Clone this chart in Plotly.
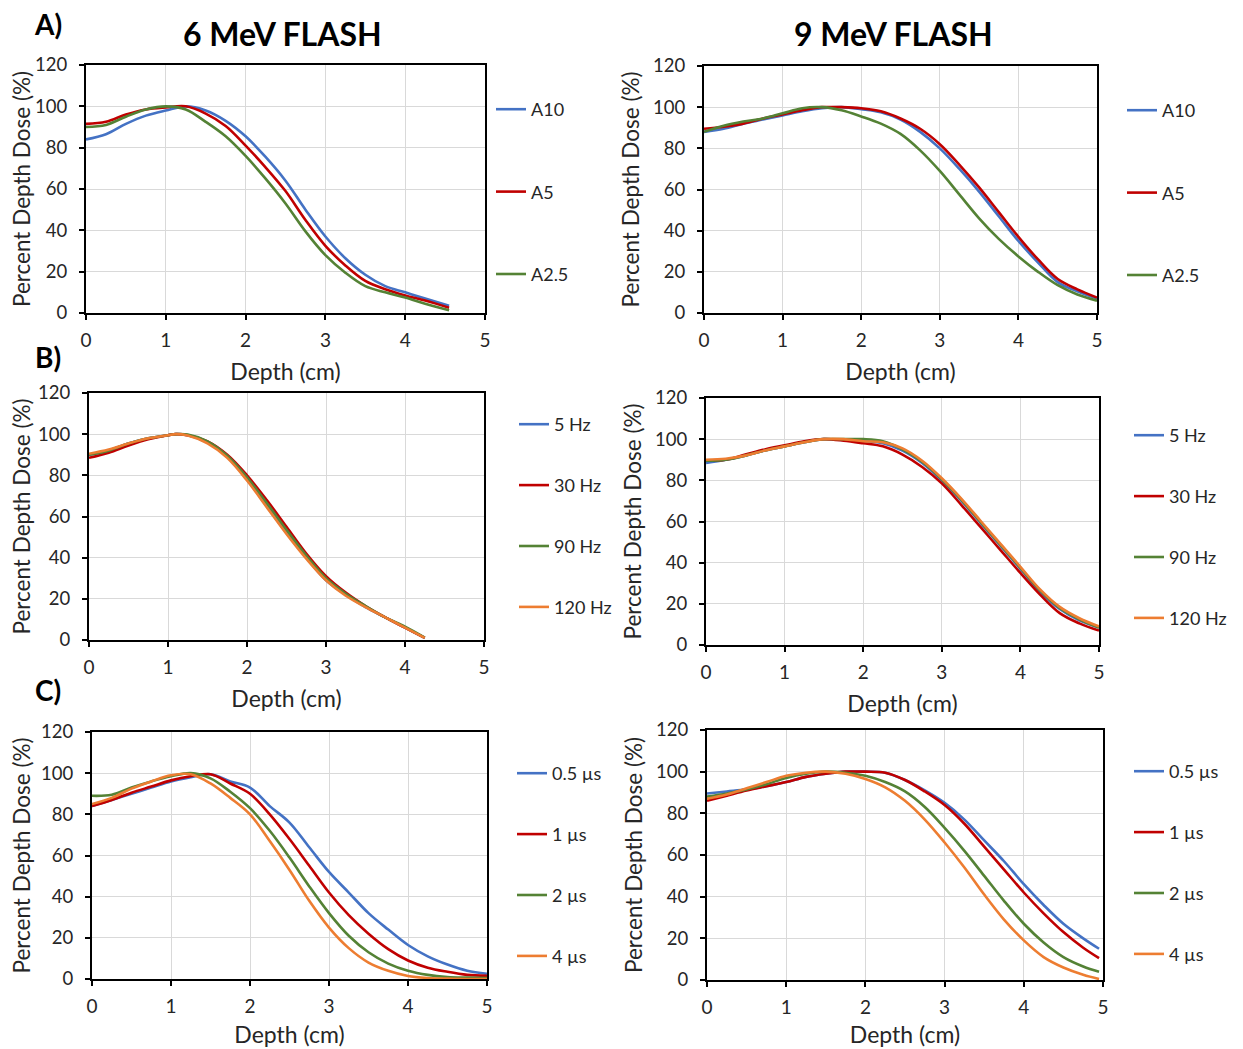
import plotly.graph_objects as go

W, H = 1243, 1049
OFF = 8  # page body margin compensation (px)

# ---------------- data ----------------
depth_a6 = [0, 0.25, 0.5, 0.75, 1.0, 1.25, 1.5, 1.75, 2.0, 2.25, 2.5, 2.75, 3.0, 3.25, 3.5, 3.75, 4.0, 4.25, 4.55]
a6_A10 = [84, 86.5, 91.5, 95.5, 98, 100, 98, 93, 85.5, 75.5, 64, 50, 37, 26.5, 18.5, 13, 10, 7, 3.5]
a6_A5 = [91.5, 92.5, 96, 98.5, 99.5, 100, 96.5, 90.5, 81, 70.5, 59, 45, 32.5, 23, 15.5, 11.5, 8.5, 6, 2.5]
a6_A25 = [90, 91, 95, 98.5, 100, 98.5, 92.5, 85.5, 76, 65, 53, 39.5, 28, 19.5, 13, 10, 7.5, 4.5, 1.3]

depth_a9 = [0, 0.25, 0.5, 0.75, 1.0, 1.25, 1.5, 1.75, 2.0, 2.25, 2.5, 2.75, 3.0, 3.25, 3.5, 3.75, 4.0, 4.25, 4.5, 4.75, 5.0]
a9_A10 = [88, 89.5, 92, 94, 96, 98, 99.5, 100, 99, 97.5, 94, 88, 80, 70, 59, 47, 35, 24.5, 15, 10.5, 7]
a9_A5 = [89.5, 90.5, 92, 94.5, 96.5, 98.5, 100, 100, 99.5, 98, 94.5, 89.5, 82, 72, 61, 49, 37, 26, 16.5, 11.5, 7.5]
a9_A25 = [88, 91, 93, 94.5, 97, 99.5, 100, 98.5, 95.5, 92, 87, 79, 69, 57.5, 46, 36, 27.5, 20, 13.5, 9, 6]

depth_b6 = [0, 0.25, 0.5, 0.75, 1.0, 1.1, 1.25, 1.5, 1.75, 2.0, 2.25, 2.5, 2.75, 3.0, 3.25, 3.5, 3.75, 4.0, 4.25]
b6_5 = [90, 92, 95.5, 98, 99.5, 100, 99.5, 96, 89, 78, 65, 52, 40, 29, 22, 16, 11, 6, 1]
b6_30 = [88.5, 91, 94.5, 97.5, 99.5, 100, 99.5, 96.5, 90, 80, 68, 55, 42, 31, 23, 16.5, 11, 6, 1]
b6_90 = [90, 92, 95.5, 98, 99.5, 100, 99.8, 96.5, 89.5, 79, 66.5, 53.5, 41, 30, 22.5, 16.5, 11, 6.5, 1.2]
b6_120 = [90.5, 92.5, 95.5, 98, 99.5, 100, 99.3, 95.5, 88.5, 77.5, 64.5, 51.5, 39.5, 29, 21.5, 16, 11, 6, 1]

depth_b9 = [0, 0.25, 0.5, 0.75, 1.0, 1.25, 1.5, 1.75, 2.0, 2.25, 2.5, 2.75, 3.0, 3.25, 3.5, 3.75, 4.0, 4.25, 4.5, 4.75, 5.0]
b9_5 = [88.5, 90, 92, 94.5, 96.5, 98.5, 100, 99.5, 99, 98, 94.5, 88.5, 80, 70, 59, 48, 37, 26, 17.5, 12, 8.5]
b9_30 = [89.5, 90, 92.5, 95, 97, 99, 100, 99.3, 98, 96.5, 92.5, 86.5, 78.5, 68, 57, 46, 35, 24.5, 15.5, 10.5, 7]
b9_90 = [89.5, 90, 92, 94.5, 96.5, 98.5, 100, 100, 100, 99, 95, 89, 80.5, 70.5, 59.5, 48.5, 37.5, 26.5, 18, 12.5, 8.5]
b9_120 = [90, 90.5, 92, 94.5, 96.5, 98.5, 100, 100, 99, 98.5, 95.5, 89.5, 81, 71, 60, 49, 38, 27, 18.5, 13, 9]

depth_c6 = [0, 0.25, 0.5, 0.75, 1.0, 1.25, 1.5, 1.75, 2.0, 2.25, 2.5, 2.75, 3.0, 3.25, 3.5, 3.75, 4.0, 4.25, 4.5, 4.75, 5.0]
c6_05 = [84, 87, 90, 93, 96, 98, 99.5, 96, 93, 84, 76, 64, 52, 42, 32, 24, 16.5, 11, 7, 4, 2.5]
c6_1 = [84, 87, 90.5, 93.5, 96.5, 98.5, 99.5, 95, 90, 80, 68, 55, 42, 31, 22, 14.5, 9, 5.5, 3.5, 2, 1.5]
c6_2 = [89, 89.5, 93, 96, 98.5, 100, 97.5, 91, 83, 72, 59, 45, 32, 21, 13, 7.5, 4, 2, 1, 0.7, 0.5]
c6_4 = [85, 88, 92.5, 96, 99, 99.5, 95, 88, 80, 67, 53, 38, 25, 15, 8, 4, 1.5, 0.5, 0.2, 0, 0]

depth_c9 = [0, 0.25, 0.5, 0.75, 1.0, 1.25, 1.5, 1.75, 2.0, 2.25, 2.5, 2.75, 3.0, 3.25, 3.5, 3.75, 4.0, 4.25, 4.5, 4.75, 4.95]
c9_05 = [89.5, 90.5, 91.5, 93, 95, 97.5, 99, 100, 100, 99.5, 96, 91, 85, 77, 67, 57, 46, 36, 27, 20, 15]
c9_1 = [86, 88.5, 91, 93, 95, 97.5, 99, 100, 100, 99.5, 96, 90.5, 84, 75, 64, 53, 42, 32, 23, 15.5, 10.5]
c9_2 = [88, 89.5, 91.5, 94, 97, 99, 100, 99.5, 98, 95, 90.5, 83, 73, 62, 50, 38, 27, 18, 11, 6.5, 4]
c9_4 = [87, 89, 92, 95, 98, 99.5, 100, 99, 96.5, 92.5, 86, 77, 66, 54, 41, 29, 19, 11, 6, 2.5, 0.5]

names_a = ["A10", "A5", "A2.5"]
names_b = ["5 Hz", "30 Hz", "90 Hz", "120 Hz"]
names_c = ["0.5 µs", "1 µs", "2 µs", "4 µs"]

x_ticks = [0, 1, 2, 3, 4, 5]
y_ticks = [0, 20, 40, 60, 80, 100, 120]

col_titles = ["6 MeV FLASH", "9 MeV FLASH"]
row_labels = ["A)", "B)", "C)"]

BLUE, RED, GREEN, ORANGE = "#4472C4", "#C00000", "#548235", "#ED7D31"
colors3 = [BLUE, RED, GREEN]
colors4 = [BLUE, RED, GREEN, ORANGE]

# panel specs: (depth, series, names, colors, plot box px (x0,x1,ytop,ybot), legend px (x, ytop), gap, xtitle standoff)
panels = [
    (depth_a6, [a6_A10, a6_A5, a6_A25], names_a, colors3, (86, 485, 65, 313), (491, 91), 56, 14),
    (depth_a9, [a9_A10, a9_A5, a9_A25], names_a, colors3, (704, 1097, 66, 313), (1122, 92), 56, 14),
    (depth_b6, [b6_5, b6_30, b6_90, b6_120], names_b, colors4, (89, 484, 393, 640), (514, 406), 34.5, 14),
    (depth_b9, [b9_5, b9_30, b9_90, b9_120], names_b, colors4, (706, 1099, 398, 645), (1129, 417), 34.5, 14),
    (depth_c6, [c6_05, c6_1, c6_2, c6_4], names_c, colors4, (92, 487, 732, 979), (512, 755), 34.5, 11),
    (depth_c9, [c9_05, c9_1, c9_2, c9_4], names_c, colors4, (707, 1103, 730, 980), (1129, 753), 34.5, 10),
]

FONT = "Lato"
TXT = "#262626"


def px(x):
    return (x - OFF) / W


def py(y):
    return 1 - (y - OFF) / H


fig = go.Figure()
layout = {}
for i, (depth, series, names, cols, box, leg, gap, xstand) in enumerate(panels):
    k = i + 1
    xa = "x" if k == 1 else f"x{k}"
    ya = "y" if k == 1 else f"y{k}"
    lname = "legend" if k == 1 else f"legend{k}"
    for s, nm, c in zip(series, names, cols):
        fig.add_trace(go.Scatter(
            x=depth, y=s, name=nm, mode="lines",
            line=dict(color=c, width=2.6, shape="spline", smoothing=1.0),
            xaxis=xa, yaxis=ya, legend=lname, legendgroup=f"g{k}_{nm}",
        ))
    x0, x1, yt, yb = box
    xkey = "xaxis" if k == 1 else f"xaxis{k}"
    ykey = "yaxis" if k == 1 else f"yaxis{k}"
    layout[xkey] = dict(
        domain=[px(x0), px(x1)], anchor=ya, range=[0, 5], automargin=False,
        tickvals=x_ticks, ticks="outside", ticklen=5, tickwidth=1.5, tickcolor="black",
        ticklabelstandoff=4,
        showline=True, linecolor="black", linewidth=2, mirror=True,
        showgrid=True, gridcolor="#d9d9d9", gridwidth=1, zeroline=False,
        tickfont=dict(family=FONT, size=19, color=TXT),
        title=dict(text="Depth (cm)", font=dict(family=FONT, size=23, color=TXT), standoff=xstand),
    )
    layout[ykey] = dict(
        domain=[py(yb), py(yt)], anchor=xa, range=[0, 120], automargin=False,
        tickvals=y_ticks, ticks="outside", ticklen=5, tickwidth=1.5, tickcolor="black",
        ticklabelstandoff=8,
        showline=True, linecolor="black", linewidth=2, mirror=True,
        showgrid=True, gridcolor="#d9d9d9", gridwidth=1, zeroline=False,
        tickfont=dict(family=FONT, size=18.5, color=TXT),
        title=dict(text="Percent Depth Dose (%)", font=dict(family=FONT, size=22.5, color=TXT), standoff=7),
    )
    layout[lname] = dict(
        x=px(leg[0]), y=py(leg[1]), xanchor="left", yanchor="top",
        bgcolor="rgba(0,0,0,0)", font=dict(family=FONT, size=18, color=TXT),
        tracegroupgap=gap, itemwidth=30,
    )

annotations = []
for t, xc in zip(col_titles, [282, 893]):
    annotations.append(dict(text=f"<b>{t}</b>", x=px(xc), y=py(33), xref="paper", yref="paper",
                            showarrow=False, font=dict(family=FONT, size=32, color="black"),
                            xanchor="center", yanchor="middle"))
for t, yc in zip(row_labels, [24, 357, 690]):
    annotations.append(dict(text=f"<b>{t}</b>", x=px(48), y=py(yc), xref="paper", yref="paper",
                            showarrow=False, font=dict(family=FONT, size=28, color="black"),
                            xanchor="center", yanchor="middle"))

fig.update_layout(
    width=W, height=H, margin=dict(l=0, r=0, t=0, b=0, autoexpand=False),
    paper_bgcolor="white", plot_bgcolor="white",
    showlegend=True, annotations=annotations, **layout,
)

fig.write_html("out.html")
